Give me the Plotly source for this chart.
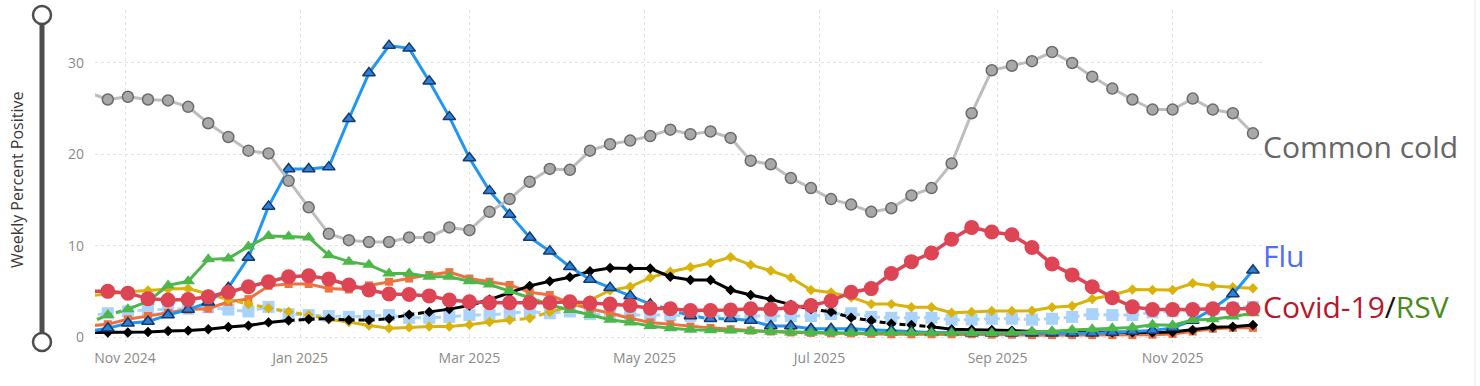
import plotly.graph_objects as go
import pandas as pd

# ---------------- data ----------------
weeks = pd.date_range("2024-10-19", periods=59, freq="7D")

common_cold = [26.8, 26.0, 26.3, 26.0, 25.9, 25.2, 23.4, 21.9, 20.4, 20.1,
               17.1, 14.2, 11.3, 10.6, 10.4, 10.4, 10.9, 10.9, 12.0, 11.7,
               13.7, 15.1, 17.0, 18.4, 18.3, 20.4, 21.1, 21.5, 22.0, 22.7,
               22.2, 22.5, 21.8, 19.3, 18.9, 17.4, 16.3, 15.1, 14.5, 13.7,
               14.1, 15.5, 16.3, 19.0, 24.5, 29.2, 29.7, 30.2, 31.2, 30.0,
               28.5, 27.2, 26.0, 24.9, 24.9, 26.1, 24.9, 24.5, 22.3]

flu = [0.6, 0.95, 1.5, 1.7, 2.4, 3.0, 3.8, 5.4, 8.7, 14.3,
       18.4, 18.4, 18.6, 23.9, 28.9, 31.9, 31.6, 28.0, 24.1, 19.6,
       16.0, 13.4, 10.9, 9.4, 7.7, 6.3, 5.4, 4.5, 3.6, 3.0,
       2.3, 2.0, 2.0, 1.8, 1.2, 1.2, 0.9, 0.9, 0.9, 0.8,
       0.7, 0.6, 0.5, 0.5, 0.4, 0.4, 0.4, 0.4, 0.4, 0.4,
       0.4, 0.5, 0.6, 0.7, 1.0, 1.8, 3.1, 4.7, 7.3]

covid = [5.0, 5.0, 4.8, 4.2, 4.05, 4.1, 4.4, 4.9, 5.5, 6.05,
         6.6, 6.7, 6.35, 5.7, 5.15, 4.7, 4.65, 4.5, 4.05, 3.85,
         3.75, 3.75, 3.75, 3.75, 3.85, 3.7, 3.6, 3.45, 3.15, 3.1,
         2.9, 2.9, 2.95, 3.1, 3.05, 3.2, 3.45, 3.95, 4.9, 5.3,
         6.95, 8.25, 9.2, 10.7, 12.0, 11.5, 11.2, 9.8, 8.0, 6.8,
         5.5, 4.3, 3.3, 3.0, 3.0, 3.0, 3.1, 3.1, 3.1]

rsv = [1.5, 2.4, 3.05, 3.9, 5.65, 6.1, 8.5, 8.6, 9.9, 11.05,
       11.0, 10.9, 8.95, 8.25, 7.9, 6.95, 6.95, 6.6, 6.6, 6.1,
       5.75, 5.05, 4.3, 3.5, 2.95, 2.4, 1.9, 1.6, 1.2, 0.95,
       0.8, 0.75, 0.7, 0.65, 0.58, 0.5, 0.47, 0.47, 0.45, 0.45,
       0.45, 0.45, 0.42, 0.4, 0.4, 0.42, 0.47, 0.58, 0.62, 0.77,
       0.86, 0.95, 1.05, 1.35, 1.3, 1.85, 1.95, 2.25, 2.6]

other_orange = [1.2, 1.4, 1.95, 2.3, 2.65, 3.0, 3.1, 3.85, 4.15, 5.6,
                5.8, 5.8, 5.3, 5.2, 5.65, 6.05, 6.4, 6.8, 7.1, 6.4,
                6.05, 5.7, 4.9, 4.6, 3.7, 3.1, 2.6, 2.05, 1.6, 1.4,
                1.15, 1.0, 0.85, 0.7, 0.6, 0.5, 0.45, 0.4, 0.4, 0.35,
                0.3, 0.3, 0.3, 0.3, 0.3, 0.25, 0.25, 0.2, 0.2, 0.2,
                0.2, 0.2, 0.2, 0.25, 0.33, 0.6, 0.9, 1.0, 1.0]

other_lightblue = [2.3, 2.6, 2.8, 3.0, 3.0, 3.1, 3.25, 3.0, 2.8, 3.3,
                   2.5, 2.4, 2.3, 2.2, 2.3, 2.4, 2.1, 2.1, 2.2, 2.4,
                   2.4, 2.6, 2.8, 2.6, 2.8, 2.5, 2.5, 2.4, 2.4, 2.4,
                   2.3, 2.3, 2.3, 2.3, 2.3, 2.3, 2.3, 2.5, 2.6, 2.2,
                   2.1, 2.1, 2.1, 1.9, 1.9, 2.0, 2.0, 1.9, 2.0, 2.2,
                   2.5, 2.4, 2.4, 2.7, 2.8, 2.9, 3.0, 3.2, 3.3]

other_black = [0.5, 0.5, 0.5, 0.55, 0.65, 0.7, 0.85, 1.1, 1.25, 1.6,
               1.8, 1.95, 2.0, 1.85, 1.85, 2.0, 2.45, 2.75, 3.05, 3.45,
               4.1, 4.85, 5.6, 6.1, 6.55, 7.2, 7.55, 7.5, 7.5, 6.6,
               6.24, 6.24, 5.15, 4.6, 4.12, 3.55, 3.05, 2.77, 2.12, 1.8,
               1.46, 1.31, 1.13, 0.84, 0.8, 0.77, 0.7, 0.6, 0.58, 0.55,
               0.55, 0.5, 0.5, 0.5, 0.55, 0.77, 1.06, 1.13, 1.31]

other_yellow = [4.5, 4.75, 4.96, 5.1, 5.25, 5.3, 4.7, 4.1, 3.6, 3.15,
                2.77, 2.4, 1.95, 1.65, 1.25, 0.95, 1.05, 1.15, 1.15, 1.35,
                1.65, 1.86, 2.04, 2.75, 3.3, 4.05, 5.1, 5.5, 6.5, 7.15,
                7.65, 8.1, 8.75, 7.9, 7.25, 6.5, 5.15, 4.87, 4.35, 3.6,
                3.6, 3.25, 3.25, 2.66, 2.75, 2.85, 2.85, 2.88, 3.25, 3.4,
                4.16, 4.6, 5.2, 5.15, 5.15, 5.88, 5.58, 5.44, 5.33]

y_ticks = [0, 10, 20, 30]

# ---------------- styles ----------------
# (name, values, line colour, symbol, size, fill, outline, outline width, dashed index ranges, all dashed, line width)
series = [
    ("Other (light blue)", other_lightblue, "#a9d3fa", "square", 12, "#a9d3fa", "#a9d3fa", 0, [], True, 3),
    ("Other (orange)", other_orange, "#ef7140", "square", 8, "#ef7140", "#ef7140", 0, [], False, 3),
    ("Other (yellow)", other_yellow, "#d9b30b", "diamond", 8, "#d9b30b", "#d9b30b", 0, [(6, 12), (21, 23)], False, 3),
    ("Other (black)", other_black, "#000000", "diamond", 8, "#000000", "#000000", 0, [(10, 17), (36, 42)], False, 3),
    ("Flu", flu, "#2196f3", "triangle-up", 11, "#2b80d8", "#163a6b", 1.5, [(28, 32)], False, 3),
    ("RSV", rsv, "#4db74a", "triangle-up", 12, "#4db74a", "#4db74a", 0, [(0, 2)], False, 3),
    ("Covid-19", covid, "#dd4454", "circle", 15, "#dd4454", "#dd4454", 0, [], False, 3.5),
    ("Common cold", common_cold, "#bdbdbd", "circle", 11, "#a8a8a8", "#6b6b6b", 1.5, [], False, 3),
]


def runs(n, dashed):
    style = [any(a <= k and k + 1 <= b for a, b in dashed) for k in range(n - 1)]
    out = []
    start = 0
    for k in range(1, n - 1):
        if style[k] != style[k - 1]:
            out.append((start, k, style[k - 1]))
            start = k
    out.append((start, n - 1, style[-1]))
    return out


fig = go.Figure()
x = list(weeks)
for name, vals, lc, sym, size, fill, outline, ow, dashed, alldash, lw in series:
    n = len(vals)
    if alldash:
        segs = [(0, n - 1, True)]
    else:
        segs = runs(n, dashed)
    for a, b, d in segs:
        fig.add_trace(go.Scatter(
            x=x[a:b + 1], y=vals[a:b + 1], mode="lines",
            line=dict(color=lc, width=lw, dash="6px,4px" if d else "solid"),
            showlegend=False, hoverinfo="skip"))
    fig.add_trace(go.Scatter(
        x=x, y=vals, mode="markers", name=name,
        marker=dict(symbol=sym, size=size, color=fill,
                    line=dict(color=outline, width=ow)),
        showlegend=False))

# page body margin is removed (see post_script), so figure coords == page coords
W, H = 1480, 386
ML, MR, MT, MB = 95, 217, 10, 44
PW, PH = W - ML - MR, H - MT - MB


def px_x(p):
    return (p - ML) / PW


def px_y(p):
    return (H - MB - p) / PH


font_family = "Open Sans, Noto Sans, sans-serif"

fig.update_layout(
    width=W, height=H,
    margin=dict(l=ML, r=MR, t=MT, b=MB),
    paper_bgcolor="white", plot_bgcolor="white",
    showlegend=False,
    font=dict(family=font_family, color="#8a8a8a", size=14),
    xaxis=dict(
        range=["2024-10-21 13:00", "2025-12-02 12:00"],
        tick0="2024-11-01", dtick="M2", tickformat="%b %Y",
        showgrid=True, gridcolor="#e2e2e2", griddash="dot", gridwidth=1,
        zeroline=False, showline=False, ticks="",
        ticklabelstandoff=6,
        tickfont=dict(size=14, color="#8a8a8a"),
    ),
    yaxis=dict(
        range=[-0.547, 35.8],
        tickvals=y_ticks, ticktext=[str(v) for v in y_ticks],
        showgrid=True, gridcolor="#e2e2e2", griddash="dot", gridwidth=1,
        zeroline=False, showline=False, ticks="",
        ticklabelstandoff=10,
        tickfont=dict(size=14, color="#8a8a8a"),
    ),
)

# left slider decoration
slider_col = "#4d4d4d"
fig.add_shape(type="line", xref="paper", yref="paper",
              x0=px_x(42), x1=px_x(42), y0=px_y(24), y1=px_y(333),
              line=dict(color=slider_col, width=5))
for cy in (15, 342):
    fig.add_shape(type="circle", xref="paper", yref="paper",
                  xsizemode="pixel", ysizemode="pixel",
                  xanchor=px_x(42), yanchor=px_y(cy),
                  x0=-9, x1=9, y0=-9, y1=9,
                  fillcolor="white", line=dict(color=slider_col, width=2.5))

# faint right border
fig.add_shape(type="line", xref="paper", yref="paper",
              x0=px_x(1475), x1=px_x(1475), y0=px_y(0), y1=px_y(386),
              line=dict(color="#e8e8e8", width=1))

# axis title
fig.add_annotation(text="Weekly Percent Positive", xref="paper", yref="paper",
                   x=px_x(17), y=px_y(180), textangle=-90, showarrow=False,
                   xanchor="center", yanchor="middle",
                   font=dict(family=font_family, size=16, color="#3a3a3a"))

# series labels
lab_font = dict(family=font_family, size=30)
fig.add_annotation(text="Common cold", xref="paper", yref="paper",
                   x=px_x(1261), y=px_y(146), xanchor="left", yanchor="middle",
                   showarrow=False, font=dict(lab_font, color="#666666"))
fig.add_annotation(text="Flu", xref="paper", yref="paper",
                   x=px_x(1261), y=px_y(255), xanchor="left", yanchor="middle",
                   showarrow=False, font=dict(lab_font, color="#4d6ef5"))
fig.add_annotation(
    text='<span style="color:#b5192b">Covid-19</span><span style="color:#111111">/</span><span style="color:#4a8c1c">RSV</span>',
    xref="paper", yref="paper", x=px_x(1261), y=px_y(306),
    xanchor="left", yanchor="middle", showarrow=False, font=lab_font)

fig.write_html("out.html",
               config={"displayModeBar": False},
               post_script="document.body.style.margin='0';document.body.style.padding='0';")
